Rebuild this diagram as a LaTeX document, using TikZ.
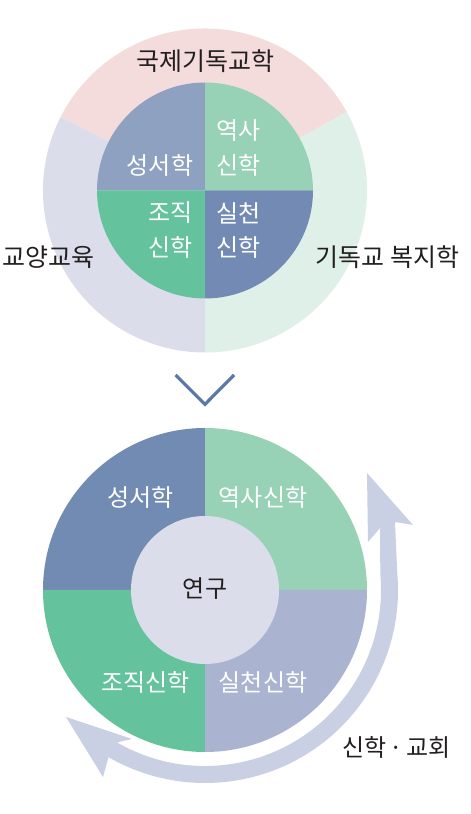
\documentclass[tikz,border=0pt]{standalone}
\usepackage{fontspec}
\setmainfont{Noto Sans CJK KR}
\definecolor{pinkring}{HTML}{F4DCDD}
\definecolor{grayring}{HTML}{DBDEEA}
\definecolor{greenring}{HTML}{DFF0E8}
\definecolor{qa}{HTML}{8FA1C1}
\definecolor{qb}{HTML}{97D1B6}
\definecolor{qc}{HTML}{64C39C}
\definecolor{qd}{HTML}{738BB4}
\definecolor{pa}{HTML}{728BB3}
\definecolor{pd}{HTML}{AAB4D0}
\definecolor{core}{HTML}{DBDEEA}
\definecolor{arrowc}{HTML}{C9D0E3}
\definecolor{chev}{HTML}{5A78A8}
\definecolor{txt}{HTML}{231F20}
\begin{document}
\begin{tikzpicture}[x=1pt,y=1pt,
  lbl/.style={font=\fontsize{24}{28}\selectfont, text=txt, inner sep=0pt},
  olbl/.style={lbl, font=\fontsize{25}{29}\selectfont},
  wlbl/.style={lbl, text=white}]
\useasboundingbox (0,0) rectangle (471,814);
\fill[white] (0,0) rectangle (471,814);
% ---------- top diagram ----------
\begin{scope}[shift={(205,623.5)}]
  \fill[pinkring] (0,0) -- (29:162) arc[start angle=29, end angle=153, radius=162] -- cycle;
  \fill[grayring] (0,0) -- (153:162) arc[start angle=153, end angle=270, radius=162] -- cycle;
  \fill[greenring] (0,0) -- (270:162) arc[start angle=270, end angle=389, radius=162] -- cycle;
  \fill[qa] (0,0) -- (90:108) arc[start angle=90, end angle=180, radius=108] -- cycle;
  \fill[qb] (0,0) -- (0:108) arc[start angle=0, end angle=90, radius=108] -- cycle;
  \fill[qc] (0,0) -- (180:108) arc[start angle=180, end angle=270, radius=108] -- cycle;
  \fill[qd] (0,0) -- (270:108) arc[start angle=270, end angle=360, radius=108] -- cycle;
\end{scope}
\node[olbl] (intl) at (205,753) {국제기독교학};
\node[olbl] (liberal) at (48.7,557) {교양교육};
\node[olbl] (welfare) at (387.5,557) {기독교 복지학};
\node[wlbl, anchor=east] (bible1) at (193.3,649) {성서학};
\node[wlbl, anchor=west] (hist1a) at (216.7,683) {역사};
\node[wlbl, anchor=west] (hist1b) at (216.7,649) {신학};
\node[wlbl, anchor=east] (sys1a) at (193,601) {조직};
\node[wlbl, anchor=east] (sys1b) at (193,567) {신학};
\node[wlbl, anchor=west] (prac1a) at (216.7,601) {실천};
\node[wlbl, anchor=west] (prac1b) at (216.7,567) {신학};
% ---------- chevron ----------
\draw[chev, line width=3.2pt] (175.7,439) -- (205,409.7) -- (234,439);
% ---------- bottom diagram ----------
\begin{scope}[shift={(205,224)}]
  \fill[arrowc] (162,117) -- (208,65) -- (190,68) -- (5:193)
    arc[start angle=5, end angle=-120, radius=193]
    -- (-102,-187) -- (-139,-127) -- (-73,-149) -- (-120:176)
    arc[start angle=-120, end angle=5, radius=176]
    -- (175,62) -- (163,48) -- cycle;
  \fill[pa] (0,0) -- (90:162) arc[start angle=90, end angle=180, radius=162] -- cycle;
  \fill[qb] (0,0) -- (0:162) arc[start angle=0, end angle=90, radius=162] -- cycle;
  \fill[qc] (0,0) -- (180:162) arc[start angle=180, end angle=270, radius=162] -- cycle;
  \fill[pd] (0,0) -- (270:162) arc[start angle=270, end angle=360, radius=162] -- cycle;
  \fill[core] (0,0) circle[radius=74];
\end{scope}
\node[wlbl] (bible2) at (140.8,316.5) {성서학};
\node[wlbl] (hist2) at (263,316.5) {역사신학};
\node[wlbl] (sys2) at (145.5,131.5) {조직신학};
\node[wlbl] (prac2) at (263,131.5) {실천신학};
\node[lbl] (research) at (205,225.7) {연구};
\node[lbl] (church) at (396.7,66.5) {신학\hspace{3pt}·\hspace{3pt}교회};
\end{tikzpicture}
\end{document}
